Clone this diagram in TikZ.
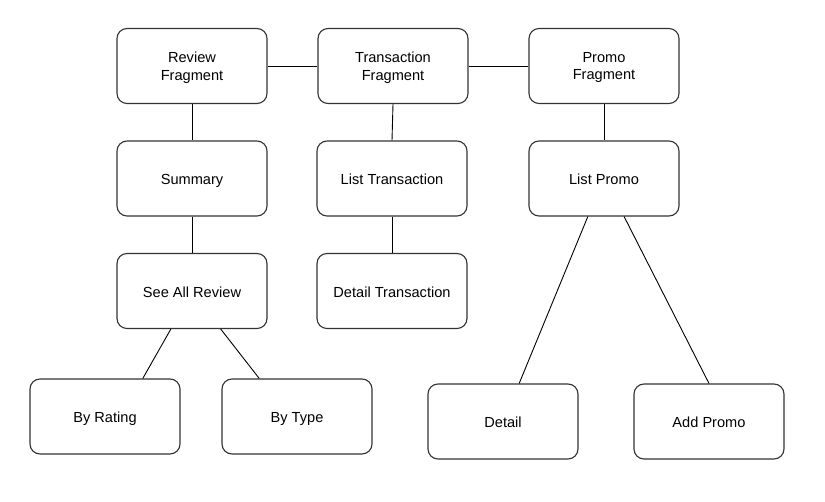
\documentclass[tikz,border=0pt]{standalone}
\usepackage{fontspec}
\setmainfont{Liberation Sans}
\usetikzlibrary{calc}
\begin{document}
\begin{tikzpicture}[x=1pt,y=-1pt,
  box/.style={draw=black!80,line width=1.1pt,rounded corners=10pt,fill=white,
    minimum width=150pt,minimum height=75pt,inner sep=0pt,align=center,
    font=\fontsize{14.6}{17.7}\selectfont,text height=13pt,text depth=0pt},
  box2/.style={box,text height=,text depth=0pt},
  link/.style={draw=black,line width=0.9pt}]
\useasboundingbox (0,0) rectangle (825,502);
\node[box2] (rf) at (192,66) {Review\\Fragment};
\node[box2] (tf) at (393,66) {Transaction\\Fragment};
\node[box2] (pf) at (604,66) {Promo\\Fragment};
\node[box] (sum) at (192,178.5) {Summary};
\node[box] (lt) at (392,178.5) {List Transaction};
\node[box] (lp) at (604,178.5) {List Promo};
\node[box] (sar) at (192,291) {See All Review};
\node[box] (dt) at (392,291) {Detail Transaction};
\node[box] (br) at (105,416.5) {By Rating};
\node[box] (bt) at (297,416.5) {By Type};
\node[box] (det) at (503,421.5) {Detail};
\node[box] (ap) at (709,421.5) {Add Promo};
\draw[link] (rf) -- (tf);
\draw[link] (tf) -- (pf);
\draw[link] (rf) -- (sum);
\draw[link] (tf.south) -- (lt.north);
\draw[link] (pf) -- (lp);
\draw[link] (sum) -- (sar);
\draw[link] (lt) -- (dt);
\draw[link] ($(sar.south west)!0.36!(sar.south east)$) -- ($(br.north west)!0.75!(br.north east)$);
\draw[link] ($(sar.south west)!0.69!(sar.south east)$) -- ($(bt.north west)!0.25!(bt.north east)$);
\draw[link] ($(lp.south west)!0.393!(lp.south east)$) -- ($(det.north west)!0.607!(det.north east)$);
\draw[link] ($(lp.south west)!0.633!(lp.south east)$) -- ($(ap.north west)!0.5!(ap.north east)$);
\end{tikzpicture}
\end{document}
